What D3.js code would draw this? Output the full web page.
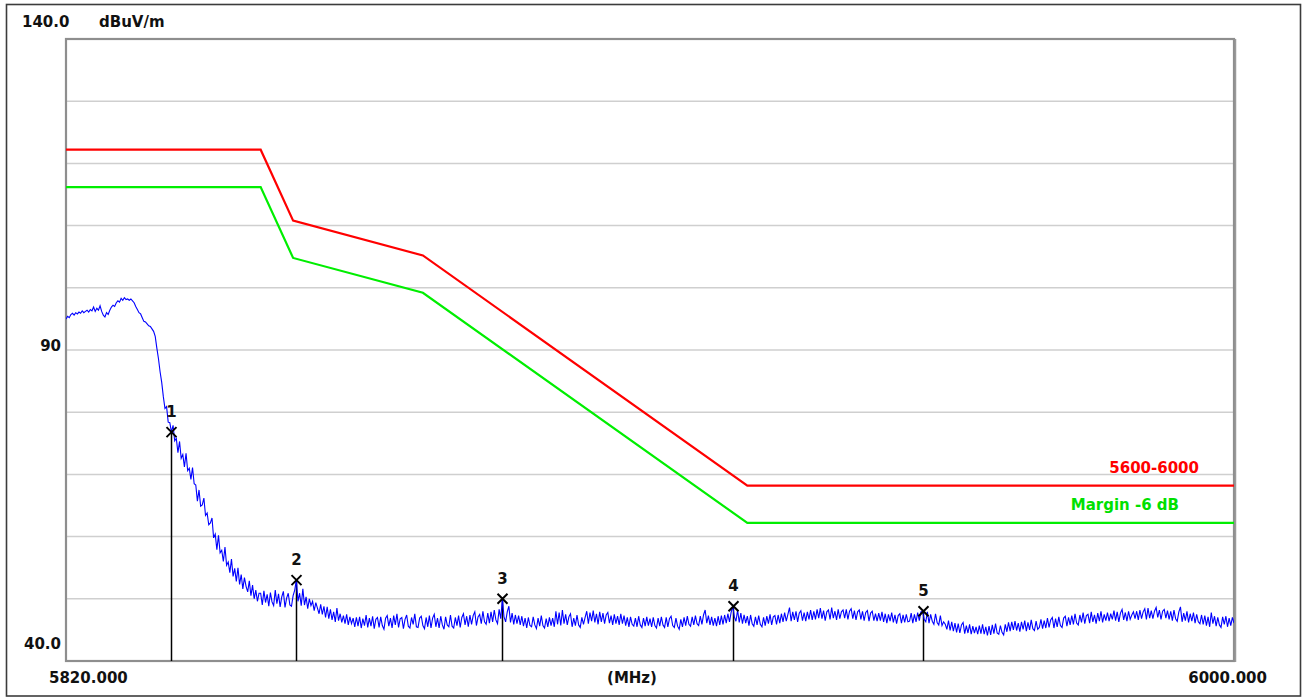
<!DOCTYPE html>
<html>
<head>
<meta charset="utf-8">
<script src="https://cdn.jsdelivr.net/npm/d3@7/dist/d3.min.js"></script>
<style>
  html, body { margin: 0; padding: 0; background: #fff; }
  svg text { font-family: "DejaVu Sans", sans-serif; font-weight: bold; font-size: 15px; }
</style>
</head>
<body>
<div id="chart"></div>
<script>
// ---- data ----
var freqMin = 5820, freqMax = 6000;
var levelMin = 40, levelMax = 140;

var gridLevels = [50, 60, 70, 80, 90, 100, 110, 120, 130];
var yTickValues = [140, 90, 40];
var yTickLabels = ["140.0", "90", "40.0"];
var unitLabel = "dBuV/m";
var xTickLabels = ["5820.000", "(MHz)", "6000.000"];

// limit line (red) and margin line (green)
var limitFreqs = [5820, 5850, 5855, 5875, 5925, 6000];
var limitLevels = [122.2, 122.2, 110.8, 105.2, 68.2, 68.2];
var marginLevels = [116.2, 116.2, 104.8, 99.2, 62.2, 62.2];
var limitName = "5600-6000";
var marginName = "Margin -6 dB";

// peak markers
var markerIds = ["1", "2", "3", "4", "5"];
var markerFreqs = [5836.25, 5855.5, 5887.25, 5922.75, 5952.0];
var markerLevels = [76.8, 53.0, 50.0, 48.8, 48.0];

// measured trace, one value every 0.25 MHz starting at 5820
var traceStart = 5820, traceStep = 0.25;
var traceLevels = [
  95.0,95.4,95.2,95.7,95.9,95.6,96.0,95.8,96.1,95.9,96.3,96.0,96.2,96.4,96.1,96.5,96.3,96.9,96.2,96.7,
  96.4,97.1,96.2,95.6,95.3,96.0,95.7,96.4,96.9,97.2,97.0,97.6,97.9,97.7,98.3,98.0,98.4,98.1,98.2,98.0,
  98.2,97.9,97.6,97.0,96.5,96.0,95.8,95.2,94.6,94.5,94.2,93.9,93.8,93.4,93.0,92.2,90.3,88.6,86.5,84.8,
  82.5,80.6,80.9,78.4,78.3,76.8,77.9,75.4,75.8,73.5,75.3,72.6,73.2,71.2,73.4,70.6,71.0,69.2,71.1,68.5,
  68.3,65.7,67.5,64.9,65.1,66.2,63.4,63.8,61.9,62.2,63.0,59.8,60.4,57.9,60.2,57.4,57.8,56.0,58.3,55.4,
  55.9,54.2,56.4,53.6,54.9,52.8,55.0,52.3,53.9,51.6,53.4,52.0,51.1,52.9,50.5,52.2,50.0,51.4,49.6,50.9,
  50.9,49.0,51.3,49.4,50.7,48.8,51.0,49.5,48.9,51.4,49.2,50.8,48.7,50.3,51.2,48.6,50.1,50.9,49.0,48.8,
  50.5,51.4,53.0,49.6,50.9,48.9,51.6,49.0,50.3,48.4,50.0,48.9,49.6,48.1,49.4,48.5,47.6,49.1,47.5,48.8,
  47.0,48.7,46.8,48.3,46.6,47.9,46.3,48.5,46.5,47.6,46.2,47.3,46.0,47.5,45.8,47.1,46.0,46.9,45.5,47.0,
  45.6,47.1,45.3,46.8,45.7,47.4,45.4,46.9,45.6,47.2,45.2,46.7,47.0,45.4,47.1,45.7,45.1,46.9,47.3,45.6,
  46.9,45.3,47.3,45.8,47.6,45.4,46.8,47.0,45.2,46.7,47.4,45.6,45.3,47.0,45.9,47.6,45.5,45.4,46.9,47.2,
  45.7,45.2,47.0,45.5,47.3,45.3,46.9,47.5,45.5,46.9,45.3,47.2,45.8,45.1,47.1,45.8,45.5,47.4,45.6,45.3,
  47.0,45.7,47.3,45.4,47.0,47.6,45.8,47.2,45.5,47.4,45.9,47.3,47.9,45.7,47.1,47.5,46.0,48.0,46.3,45.9,
  47.7,46.1,47.9,46.3,48.2,46.6,46.0,48.3,46.8,50.0,47.1,46.3,47.9,48.8,46.2,47.7,45.9,47.4,46.0,47.3,
  45.8,47.2,45.6,46.9,45.3,47.0,45.7,45.5,47.1,45.8,45.2,46.9,45.6,47.3,45.7,45.3,46.8,45.5,47.0,45.7,
  46.9,45.5,48.0,45.9,47.8,45.7,48.2,46.0,47.5,45.8,47.1,47.6,45.5,46.9,45.7,47.4,45.8,45.4,47.0,45.9,
  47.0,48.0,46.0,47.8,46.4,48.1,46.2,47.6,45.9,47.9,46.3,47.7,46.0,47.4,47.8,46.1,47.3,45.8,47.5,46.0,
  47.2,45.8,47.6,46.0,47.3,45.7,47.0,45.5,47.1,45.9,45.6,46.9,45.5,47.2,45.8,45.4,46.9,45.6,47.1,45.7,
  46.8,45.5,47.0,45.7,45.3,46.9,45.6,47.1,45.8,45.4,47.0,45.5,46.8,47.2,45.7,45.4,46.9,45.6,45.1,46.7,
  45.5,47.0,45.7,47.2,45.9,45.6,47.1,45.8,47.3,46.0,45.7,47.2,45.9,47.4,48.2,46.1,47.3,45.8,47.1,45.7,
  46.9,45.6,47.2,45.8,47.3,45.9,47.4,46.1,47.6,46.3,47.8,48.8,47.1,46.4,48.2,46.2,47.7,46.0,47.4,46.1,
  47.2,45.7,47.4,46.0,45.6,47.1,45.8,47.3,45.9,45.5,47.0,45.7,47.2,46.0,47.5,45.8,47.1,47.3,45.9,47.4,
  46.1,47.6,46.3,47.8,46.4,47.5,48.6,46.4,47.9,46.6,48.0,46.3,47.7,48.1,46.5,47.8,46.4,47.9,46.7,48.2,
  46.6,48.0,46.7,48.3,46.9,48.5,46.8,48.1,46.5,47.9,48.2,46.7,48.6,46.9,48.0,46.6,48.3,46.8,47.9,48.2,
  46.9,48.3,46.7,48.0,48.4,46.8,48.1,46.6,47.9,48.2,46.7,48.0,46.5,47.8,48.1,46.4,47.7,48.0,46.5,47.6,
  46.4,47.7,46.5,47.9,46.3,47.6,46.1,47.5,46.4,47.8,46.2,47.4,46.0,47.3,47.6,46.1,47.4,46.2,47.5,46.3,
  46.4,47.7,46.1,47.5,46.3,47.8,46.5,47.9,48.0,46.7,46.3,47.9,46.1,47.5,46.4,45.9,47.6,46.2,45.8,47.3,
  45.7,46.3,45.9,45.1,46.5,44.9,46.3,44.8,46.1,44.6,46.0,44.5,45.8,46.2,44.4,45.7,44.5,45.9,44.3,45.6,
  44.5,45.5,44.3,45.7,44.4,45.9,44.3,45.5,44.1,45.6,44.2,45.8,44.4,46.0,44.5,44.3,45.7,44.6,44.2,45.9,
  44.7,46.2,44.8,46.3,45.0,46.4,44.9,46.1,44.7,46.3,45.1,46.5,44.8,46.2,45.0,46.6,45.2,44.9,46.4,45.1,
  45.4,46.7,45.2,46.5,45.3,46.9,45.4,46.6,47.0,45.3,46.8,45.5,47.1,45.7,45.4,46.9,47.2,45.6,47.0,45.8,
  47.3,45.9,47.6,46.1,45.8,47.4,46.2,47.8,46.0,47.3,47.5,46.1,47.9,46.3,47.4,46.0,47.7,46.4,48.0,46.2,
  47.5,46.5,47.8,46.4,47.6,46.7,48.1,46.5,47.9,46.3,47.7,48.3,46.6,47.8,46.4,48.0,46.7,47.4,47.9,46.8,
  48.0,46.6,48.2,46.8,47.9,48.4,46.7,48.5,46.9,48.1,46.8,48.0,48.6,47.0,48.2,46.7,48.0,48.3,46.9,48.1,
  46.7,48.0,46.5,48.2,46.8,46.4,47.9,48.7,46.3,47.7,46.5,48.0,46.2,47.6,46.4,47.8,46.1,47.5,46.3,46.0,
  47.4,45.9,47.3,45.7,47.1,45.5,47.8,46.0,47.2,45.6,47.0,45.8,45.4,47.1,45.9,47.2,45.5,46.9,45.7,47.0,
  46.1
];

// ---- layout ----
var width = 1304, height = 698;
var plotLeft = 66, plotRight = 1234, plotTop = 39, plotBottom = 661;

var svg = d3.select("#chart")
  .append("svg")
  .attr("width", width)
  .attr("height", height);

var x = d3.scaleLinear().domain([freqMin, freqMax]).range([plotLeft, plotRight]);
var y = d3.scaleLinear().domain([levelMin, levelMax]).range([plotBottom, plotTop]);

// outer frame
svg.append("rect")
  .attr("x", 6.5).attr("y", 4.5)
  .attr("width", 1294).attr("height", 691.5)
  .attr("fill", "#fff")
  .attr("stroke", "#3c3c3c")
  .attr("stroke-width", 1.6);

// horizontal grid
svg.append("g")
  .selectAll("line")
  .data(gridLevels)
  .enter().append("line")
  .attr("x1", plotLeft).attr("x2", plotRight)
  .attr("y1", function(d) { return y(d); })
  .attr("y2", function(d) { return y(d); })
  .attr("stroke", "#cfcfcf")
  .attr("stroke-width", 1.5);

// plot frame
svg.append("rect")
  .attr("x", plotLeft).attr("y", plotTop)
  .attr("width", plotRight - plotLeft).attr("height", plotBottom - plotTop)
  .attr("fill", "none")
  .attr("stroke", "#8e8e8e")
  .attr("stroke-width", 2.2);
svg.append("line")
  .attr("x1", plotRight + 1.5).attr("x2", plotRight + 1.5)
  .attr("y1", plotTop).attr("y2", plotBottom + 1)
  .attr("stroke", "#9a9a9a").attr("stroke-width", 1.5);

svg.append("clipPath").attr("id", "clip")
  .append("rect")
  .attr("x", plotLeft).attr("y", plotTop)
  .attr("width", plotRight - plotLeft).attr("height", plotBottom - plotTop);

var plot = svg.append("g").attr("clip-path", "url(#clip)");

// limit and margin lines
var limitLine = d3.line()
  .x(function(d, i) { return x(limitFreqs[i]); })
  .y(function(d) { return y(d); });

plot.append("path")
  .datum(limitLevels)
  .attr("d", limitLine)
  .attr("fill", "none")
  .attr("stroke", "#ff0000")
  .attr("stroke-width", 2.2);

plot.append("path")
  .datum(marginLevels)
  .attr("d", limitLine)
  .attr("fill", "none")
  .attr("stroke", "#00ee00")
  .attr("stroke-width", 2.2);

// marker stems (drawn under the trace)
plot.selectAll(".stem")
  .data(markerIds)
  .enter().append("line")
  .attr("class", "stem")
  .attr("x1", function(d, i) { return Math.round(x(markerFreqs[i])) + 0.5; })
  .attr("x2", function(d, i) { return Math.round(x(markerFreqs[i])) + 0.5; })
  .attr("y1", function(d, i) { return y(markerLevels[i]); })
  .attr("y2", plotBottom)
  .attr("stroke", "#000")
  .attr("stroke-width", 1.5);

// the measured trace
var traceLine = d3.line()
  .x(function(d, i) { return x(traceStart + i * traceStep); })
  .y(function(d) { return y(d); });

plot.append("path")
  .datum(traceLevels)
  .attr("d", traceLine)
  .attr("fill", "none")
  .attr("stroke", "#0000ff")
  .attr("stroke-width", 1.1);

// marker crosses and numbers
var marks = svg.append("g");
markerIds.forEach(function(id, i) {
  var mx = Math.round(x(markerFreqs[i])) + 0.5;
  var my = y(markerLevels[i]);
  var s = 5;
  marks.append("path")
    .attr("d", "M" + (mx - s) + "," + (my - s) + "L" + (mx + s) + "," + (my + s) +
               "M" + (mx - s) + "," + (my + s) + "L" + (mx + s) + "," + (my - s))
    .attr("stroke", "#000")
    .attr("stroke-width", 2)
    .attr("fill", "none");
  marks.append("text")
    .attr("x", mx)
    .attr("y", my - 15)
    .attr("text-anchor", "middle")
    .attr("fill", "#111")
    .text(id);
});

// line names
svg.append("text")
  .attr("x", 1199).attr("y", y(limitLevels[5]) - 13)
  .attr("text-anchor", "end")
  .attr("fill", "#ff0000")
  .text(limitName);
svg.append("text")
  .attr("x", 1179).attr("y", y(marginLevels[5]) - 13)
  .attr("text-anchor", "end")
  .attr("fill", "#00e000")
  .text(marginName);

// y labels: top & bottom sit above their line, middle one centred on it
yTickValues.forEach(function(v, i) {
  var t = svg.append("text").attr("fill", "#111").text(yTickLabels[i]);
  if (i === 0) {
    t.attr("x", 22).attr("y", y(v) - 12);
  } else if (i === yTickValues.length - 1) {
    t.attr("x", 61).attr("y", y(v) - 12).attr("text-anchor", "end");
  } else {
    t.attr("x", 61).attr("y", y(v) + 1).attr("text-anchor", "end");
  }
});
svg.append("text")
  .attr("x", 99).attr("y", y(levelMax) - 12)
  .attr("fill", "#111")
  .text(unitLabel);

// x labels
svg.append("text").attr("x", 49).attr("y", 683).attr("fill", "#111").text(xTickLabels[0]);
svg.append("text").attr("x", x((freqMin + freqMax) / 2) - 18).attr("y", 683)
  .attr("text-anchor", "middle").attr("fill", "#111").text(xTickLabels[1]);
svg.append("text").attr("x", 1267).attr("y", 683)
  .attr("text-anchor", "end").attr("fill", "#111").text(xTickLabels[2]);
</script>
</body>
</html>
